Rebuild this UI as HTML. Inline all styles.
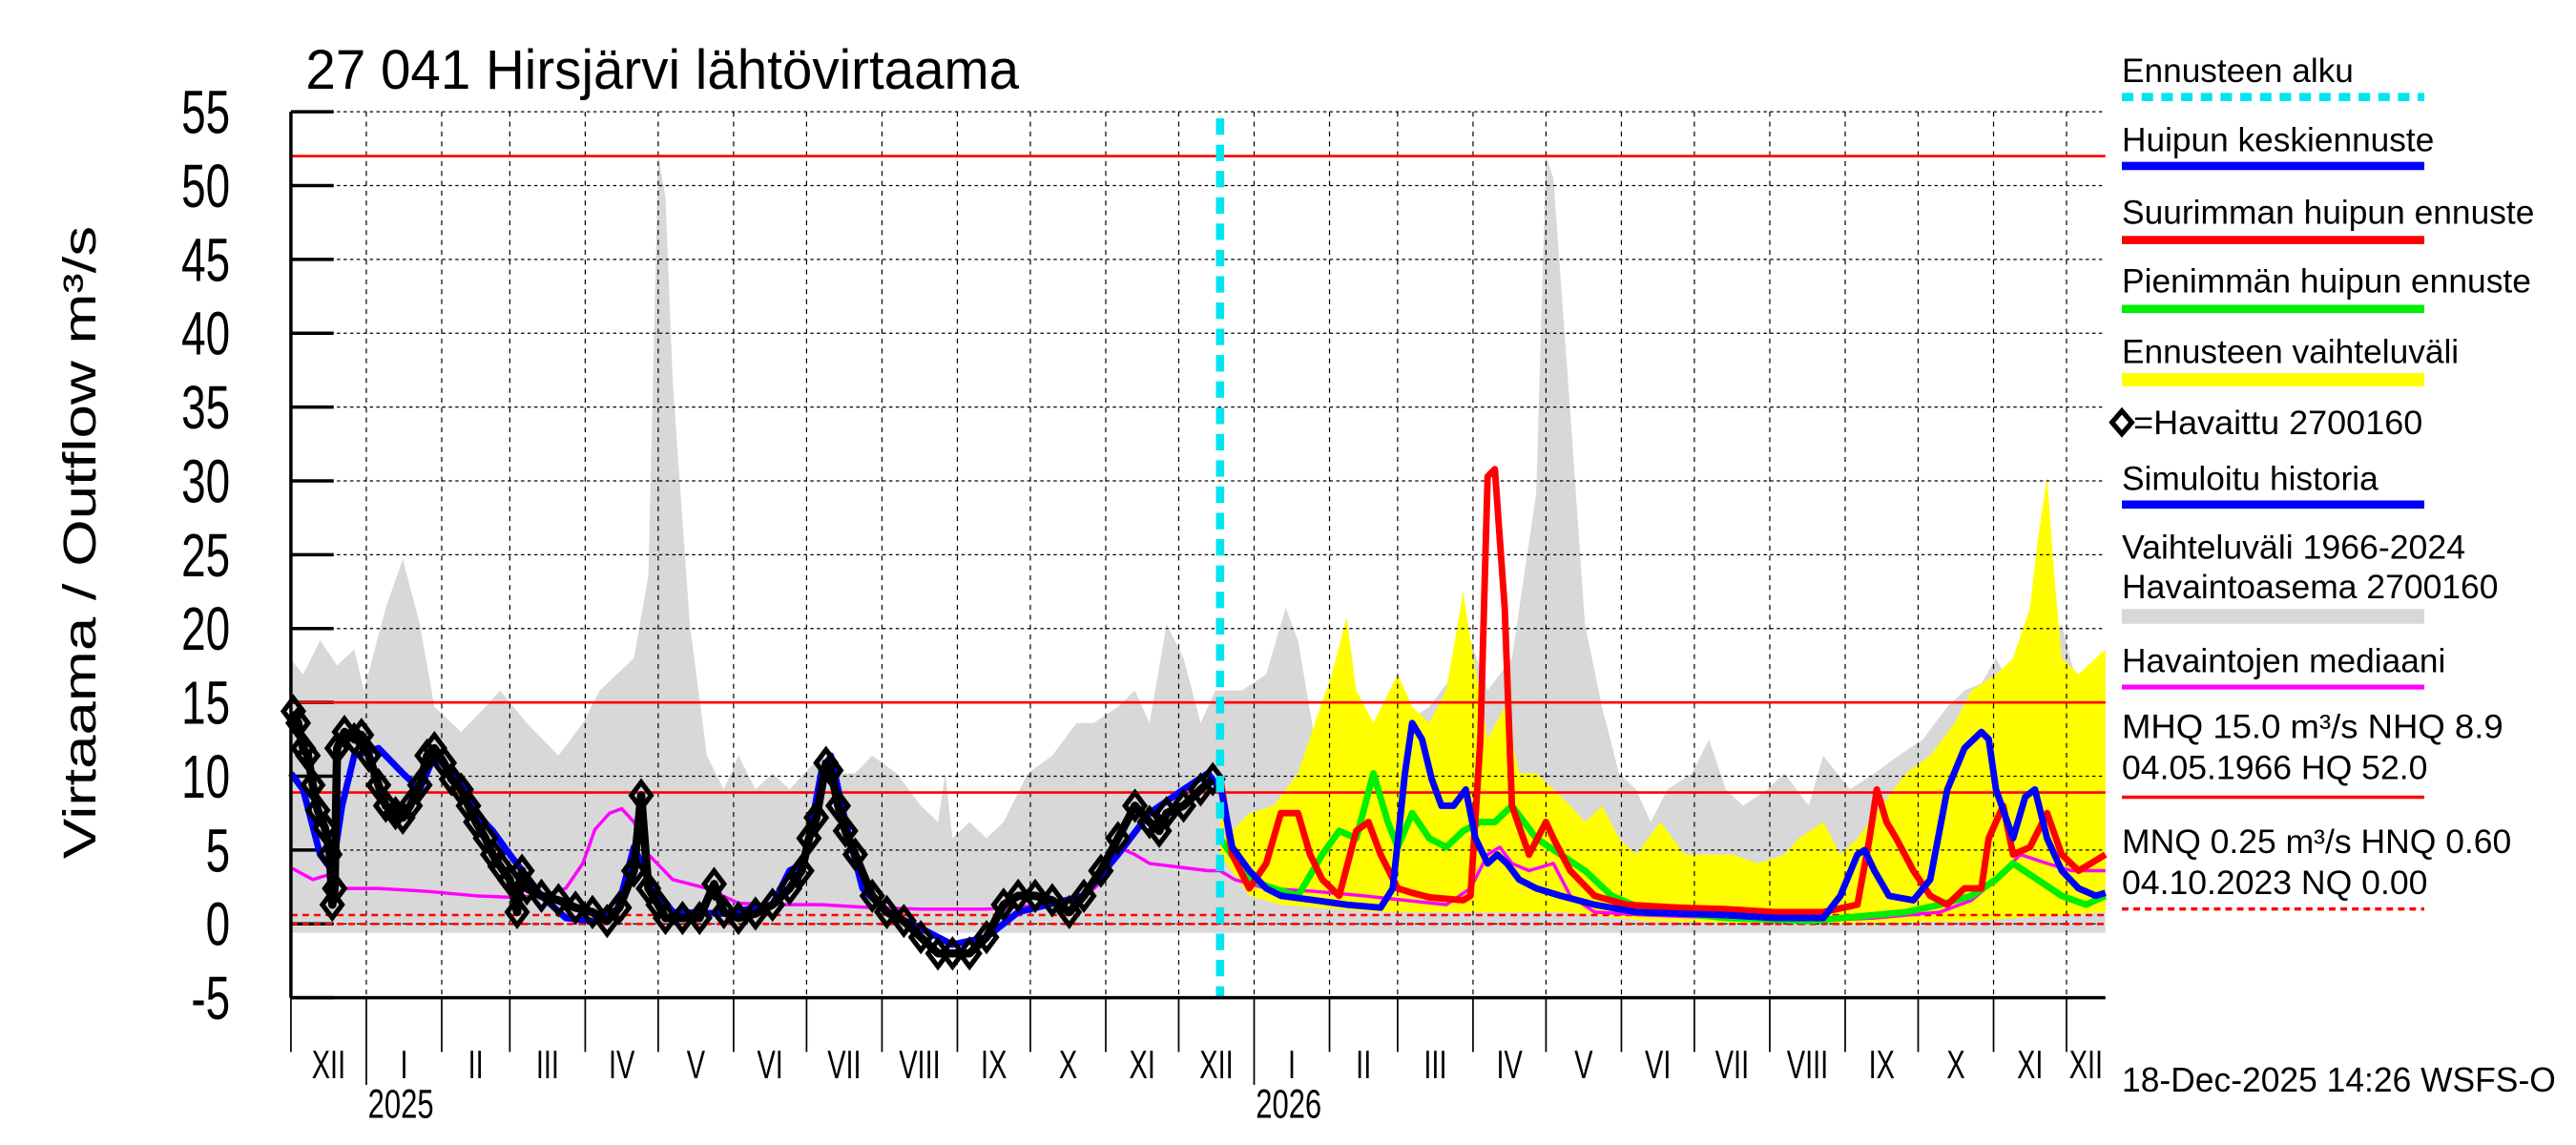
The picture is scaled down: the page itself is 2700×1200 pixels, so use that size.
<!DOCTYPE html>
<html><head><meta charset="utf-8"><style>
html,body{margin:0;padding:0;background:#fff;}
svg{display:block;font-family:"Liberation Sans",Arial,sans-serif;}
</style></head><body>
<svg id="chart" width="2700" height="1200" viewBox="0 0 1567.3 696.6" preserveAspectRatio="none" xmlns="http://www.w3.org/2000/svg">
<text x="186" y="54" font-size="34" textLength="434" lengthAdjust="spacingAndGlyphs">27 041 Hirsjärvi lähtövirtaama</text>
<text transform="translate(58,330) rotate(-90)" text-anchor="middle" font-size="28" textLength="385" lengthAdjust="spacingAndGlyphs">Virtaama / Outflow     m³/s</text>
<g id="plot"></g>
<g id="legend" font-size="20.5">
<text x="1291" y="50" textLength="141" lengthAdjust="spacingAndGlyphs">Ennusteen alku</text>
<line x1="1291" y1="59" x2="1475" y2="59" stroke="#00e5f0" stroke-width="5" stroke-dasharray="7,5"/>
<text x="1291" y="92" textLength="190" lengthAdjust="spacingAndGlyphs">Huipun keskiennuste</text>
<line x1="1291" y1="101" x2="1475" y2="101" stroke="#0000ff" stroke-width="5"/>
<text x="1291" y="136" textLength="251" lengthAdjust="spacingAndGlyphs">Suurimman huipun ennuste</text>
<line x1="1291" y1="146" x2="1475" y2="146" stroke="#ff0000" stroke-width="5"/>
<text x="1291" y="178" textLength="249" lengthAdjust="spacingAndGlyphs">Pienimmän huipun ennuste</text>
<line x1="1291" y1="188" x2="1475" y2="188" stroke="#00ee00" stroke-width="5"/>
<text x="1291" y="221" textLength="205" lengthAdjust="spacingAndGlyphs">Ennusteen vaihteluväli</text>
<line x1="1291" y1="231" x2="1475" y2="231" stroke="#ffff00" stroke-width="8"/>
<path d="M1285,257 l6,-7 l6,7 l-6,7z" fill="none" stroke="#000" stroke-width="3"/>
<text x="1298" y="264" textLength="176" lengthAdjust="spacingAndGlyphs">=Havaittu 2700160</text>
<text x="1291" y="298" textLength="156" lengthAdjust="spacingAndGlyphs">Simuloitu historia</text>
<line x1="1291" y1="307" x2="1475" y2="307" stroke="#0000ff" stroke-width="5"/>
<text x="1291" y="340" textLength="209" lengthAdjust="spacingAndGlyphs">Vaihteluväli 1966-2024</text>
<text x="1291" y="364" textLength="229" lengthAdjust="spacingAndGlyphs">Havaintoasema 2700160</text>
<line x1="1291" y1="375" x2="1475" y2="375" stroke="#d8d8d8" stroke-width="9"/>
<text x="1291" y="409" textLength="197" lengthAdjust="spacingAndGlyphs">Havaintojen mediaani</text>
<line x1="1291" y1="418" x2="1475" y2="418" stroke="#ff00ff" stroke-width="3"/>
<text x="1291" y="449" textLength="232" lengthAdjust="spacingAndGlyphs">MHQ 15.0 m³/s NHQ  8.9</text>
<text x="1291" y="474" textLength="186" lengthAdjust="spacingAndGlyphs">04.05.1966 HQ 52.0</text>
<line x1="1291" y1="485" x2="1475" y2="485" stroke="#ff0000" stroke-width="2"/>
<text x="1291" y="519" textLength="237" lengthAdjust="spacingAndGlyphs">MNQ 0.25 m³/s HNQ 0.60</text>
<text x="1291" y="544" textLength="186" lengthAdjust="spacingAndGlyphs">04.10.2023 NQ 0.00</text>
<line x1="1291" y1="553" x2="1475" y2="553" stroke="#ff0000" stroke-width="2" stroke-dasharray="4,3"/>
<text x="1291" y="664" font-size="21" textLength="264" lengthAdjust="spacingAndGlyphs">18-Dec-2025 14:26 WSFS-O</text>
</g>
</svg>
<script>
// Data (day index since 1 Dec 2024, value m3/s)
const yTicks=[-5,0,5,10,15,20,25,30,35,40,45,50,55];
const monthLabels=["XII","I","II","III","IV","V","VI","VII","VIII","IX","X","XI","XII","I","II","III","IV","V","VI","VII","VIII","IX","X","XI","XII"];
const monthStarts=[0,31,62,90,121,151,182,212,243,274,304,335,365,396,427,455,486,516,547,577,608,639,669,700,730,746];
const yearLabels=["2025","2026"];
const yearStarts=[31,396];
const refLevels=[52,15,8.9];
const lowLevels=[0.6,0.0];
const forecastStart=382;
const grayDays=[0,5,12,19,26,30,39,46,53,59,70,80,86,97,110,120,127,134,141,147,151,154,157,164,171,178,184,191,198,205,211,218,225,232,239,249,259,266,269,272,279,286,293,303,313,323,330,340,347,353,360,367,374,380,391,401,409,414,421,428,438,448,458,468,478,485,492,502,512,516,519,526,532,539,546,553,559,566,576,583,590,597,607,614,624,630,641,651,661,671,681,688,695,701,708,718,728,735,742,746];
const grayUpper=[17.9,16.9,19.2,17.5,18.6,15.8,21.4,24.7,20.3,14.7,13.0,14.7,15.8,13.6,11.4,13.6,15.8,16.9,18.0,23.6,52,49.2,36.7,20.3,11.4,9.1,11.4,9.1,10.2,9.1,10.2,11.4,10.2,10.2,11.4,10.2,8.0,6.9,10.2,5.8,6.9,5.8,6.9,10.2,11.4,13.6,13.6,14.7,15.8,13.6,20.3,18.0,13.6,15.8,15.8,16.9,21.4,19.2,12.5,14.7,14.7,13.0,13.6,14.7,16.9,19.2,15.8,18.0,29.2,52,50.5,34.7,20.3,14.7,10.2,9.1,6.9,9.1,10.2,12.5,9.1,8.0,9.1,10.2,8.0,11.4,9.1,10.2,11.4,12.5,14.7,15.8,16.3,18.0,15.8,18.0,20.3,15.8,18.0,18.0];
const grayLowDays=[0,746];
const grayLower=[-0.6,-0.6];
const yelDays=[382,384,394,404,414,421,428,434,438,445,455,461,468,475,482,485,492,499,505,512,519,526,532,539,546,553,563,573,583,593,603,614,620,630,637,644,654,664,674,684,691,701,708,715,718,722,725,728,735,742,746];
const yelUpper=[9.0,5.8,7.5,8.0,10.2,13.6,16.9,20.8,15.8,13.6,16.9,14.7,13.6,15.8,22.5,19.2,12.5,14.7,10.2,10.2,9.1,8.0,6.9,8.0,5.8,4.7,6.9,4.7,4.7,4.7,4.1,4.7,5.8,6.9,4.7,5.8,8.0,10.2,11.4,13.6,15.8,16.9,18.0,21.4,25.8,30.3,23.6,18.0,16.9,18.0,18.6];
const yelLowDays=[382,394,407,421,448,489,523,557,624,691,746];
const yelLower=[4.7,1.9,1.3,1.1,0.8,0.8,0.8,0.2,0.0,0.2,0.8];
const blueDays=[382,387,394,401,407,421,434,448,453,458,461,465,469,473,478,483,487,492,496,500,505,512,522,536,553,590,610,630,637,644,647,651,657,667,674,681,688,695,698,701,708,713,717,722,728,735,742,746];
const blueVals=[9.5,5.2,3.6,2.4,1.9,1.6,1.3,1.1,2.4,10.2,13.6,12.5,9.8,8.0,8.0,9.1,5.8,4.1,4.7,4.1,3.0,2.4,1.9,1.3,0.8,0.6,0.4,0.4,1.9,4.7,5.0,3.6,1.9,1.6,3.0,9.1,11.9,13.0,12.5,9.1,5.8,8.6,9.1,5.8,3.6,2.4,1.9,2.1];
const redDays=[382,387,394,401,407,414,419,424,431,438,443,448,455,461,468,482,485,489,492,495,499,502,509,516,519,526,536,549,570,590,610,630,644,649,652,656,660,667,674,681,688,695,698,704,708,715,722,728,735,740,746];
const redVals=[10.0,4.7,2.4,4.1,7.5,7.5,4.7,3.0,1.9,6.3,6.9,4.7,2.4,2.1,1.8,1.6,1.9,12.5,30.3,30.8,21.4,8.0,4.7,6.9,5.8,3.6,1.9,1.3,1.1,1.0,0.8,0.8,1.3,5.8,9.1,6.9,5.8,3.6,1.9,1.3,2.4,2.4,5.8,8.0,4.7,5.2,7.5,4.7,3.6,4.1,4.7];
const greenDays=[382,394,404,414,424,431,438,445,451,455,461,468,475,482,489,495,502,512,522,532,543,556,590,624,651,664,678,691,701,708,718,728,738,746];
const greenVals=[5.8,3.0,2.4,1.9,4.7,6.3,5.8,10.2,6.9,5.2,7.5,5.8,5.2,6.3,6.9,6.9,8.0,5.8,4.7,3.6,1.9,1.0,0.4,0.2,0.6,0.8,1.3,1.9,3.0,4.1,3.0,1.9,1.3,1.9];
const medDays=[0,9,15,22,36,56,76,90,103,113,120,125,131,136,141,147,157,171,184,198,218,239,259,286,313,327,334,340,347,353,367,377,382,388,401,421,441,458,475,485,492,497,502,509,519,526,536,557,590,624,651,678,691,701,711,722,732,746];
const medVals=[3.8,3.0,3.3,2.4,2.4,2.2,1.9,1.8,1.9,2.4,4.1,6.4,7.5,7.8,6.9,4.7,3.0,2.4,1.4,1.3,1.3,1.1,1.0,1.0,1.3,1.9,3.0,5.2,4.7,4.1,3.8,3.6,3.6,3.0,2.4,2.2,1.9,1.6,1.3,2.4,4.7,5.2,4.1,3.6,4.1,1.9,0.8,0.6,0.4,0.2,0.4,0.8,1.6,3.0,4.7,4.1,3.6,3.6];
const simDays=[0,5,12,17,21,26,36,46,53,59,70,76,83,90,103,113,124,134,141,147,157,178,198,205,211,218,222,228,235,245,259,272,286,299,326,340,353,367,377,382];
const simVals=[10.2,9.1,4.7,3.6,8.0,11.4,11.9,10.2,9.1,11.4,9.6,7.5,6.3,4.7,1.9,0.4,0.2,0.8,5.2,3.0,0.8,0.7,1.3,3.6,4.1,10.2,11.4,6.9,2.4,0.8,-0.3,-1.4,-0.9,0.8,1.9,4.7,7.5,9.1,10.2,9.1];
const obsDays=[1,3,5,7,9,11,14,16,17,18,19,22,26,29,32,36,39,43,46,49,53,56,59,63,66,70,73,76,80,83,86,90,93,95,97,103,110,117,124,130,135,141,144,147,151,154,161,168,174,178,184,191,198,205,210,213,216,220,222,225,228,232,239,245,252,259,266,272,279,286,293,299,306,313,320,326,333,340,347,353,357,360,367,374,379];
const obsVals=[14.4,13.6,11.9,11.4,9.4,7.7,6.5,4.7,1.3,2.4,11.9,13.0,12.5,12.8,11.4,9.4,8.0,7.5,7.2,8.0,9.4,11.4,11.9,10.9,9.8,9.1,8.0,6.9,5.8,4.7,3.9,3.0,0.8,3.6,2.4,1.9,1.6,1.1,0.8,0.2,1.1,3.6,8.7,2.4,1.3,0.4,0.4,0.4,2.7,0.8,0.4,0.7,1.3,2.4,3.6,5.8,7.2,10.9,10.4,8.0,6.3,4.7,1.9,0.8,0.2,-0.9,-2.0,-2.0,-2.0,-0.9,1.3,1.9,1.9,1.6,0.8,1.9,3.6,5.8,8.0,6.9,6.3,7.5,8.0,9.1,9.8];

const NS="http://www.w3.org/2000/svg";
const L=177,R=1281,T=68,B=607,DMAX=746,VMIN=-5,VMAX=55;
function xs(d){return L+(d/DMAX)*(R-L);}
function ys(v){return B-(v-VMIN)/(VMAX-VMIN)*(B-T);}
const plot=document.getElementById('plot');
function mk(tag,attrs,parent){const e=document.createElementNS(NS,tag);for(const k in attrs)e.setAttribute(k,attrs[k]);(parent||plot).appendChild(e);return e;}
function pts(ds,vs){return ds.map((d,i)=>xs(d).toFixed(1)+','+ys(vs[i]).toFixed(1)).join(' ');}
function band(d1,u,d2,lo){return pts(d1,u)+' '+pts(d2.slice().reverse(),lo.slice().reverse());}

let e;
e=mk('polygon',{points:band(grayDays,grayUpper,grayLowDays,grayLower),fill:'#d8d8d8'});


e=mk('polygon',{points:band(yelDays,yelUpper,yelLowDays,yelLower),fill:'#ffff00'});



// grid
yTicks.forEach(v=>{
  const y=ys(v);
  if(v>VMIN){e=mk('line',{x1:L,x2:R,y1:y,y2:y,stroke:'#000','stroke-width':0.7,'stroke-dasharray':'2,2'});
  
  }
  e=mk('line',{x1:L,x2:L+26,y1:y,y2:y,stroke:'#000','stroke-width':2});
  
  
  e=mk('text',{x:0,y:0,'text-anchor':'end','font-size':37,transform:`translate(140,${y+13}) scale(0.72,1)`});
  e.textContent=v;
  
  
});
monthStarts.forEach((d,i)=>{
  const x=xs(d);
  if(i>0&&i<monthStarts.length-1){
    e=mk('line',{x1:x,x2:x,y1:T,y2:B,stroke:'#000','stroke-width':0.7,'stroke-dasharray':'3,3'});
    
    
  }
  if(i<monthStarts.length-1){
    const isYear=yearStarts.indexOf(d)>=0;
    e=mk('line',{x1:x,x2:x,y1:B,y2:isYear?660:640,stroke:'#000','stroke-width':1});
    
    
    e=mk('text',{x:0,y:0,'text-anchor':'middle','font-size':24,transform:`translate(${(x+xs(monthStarts[i+1]))/2},656) scale(0.7,1)`});
    e.textContent=monthLabels[i];
    
    
  }
});
yearStarts.forEach((d,i)=>{
  e=mk('text',{x:0,y:0,'font-size':25,transform:`translate(${xs(d)+1},680) scale(0.72,1)`});
  e.textContent=yearLabels[i];
  
  
});

// reference lines
refLevels.forEach(v=>{
  e=mk('line',{x1:L,x2:R,y1:ys(v),y2:ys(v),stroke:'#ff0000','stroke-width':1.5});
  
  
});
lowLevels.forEach(v=>{
  e=mk('line',{x1:L,x2:R,y1:ys(v),y2:ys(v),stroke:'#ff0000','stroke-width':1.5,'stroke-dasharray':'4,3'});
  
  
});

function line(ds,vs,color,w,name){
  e=mk('polyline',{points:pts(ds,vs),fill:'none',stroke:color,'stroke-width':w,'stroke-linejoin':'round'});
  
  
}
line(medDays,medVals,'#ff00ff',2,'median-line');
line(simDays,simVals,'#0000ff',4,'simulated-history-line');
line(greenDays,greenVals,'#00ee00',4,'min-peak-forecast-line');
line(redDays,redVals,'#ff0000',4,'max-peak-forecast-line');
line(blueDays,blueVals,'#0000ff',4,'mean-peak-forecast-line');
line(obsDays,obsVals,'#000',5,'observed-line');
obsDays.forEach((d,i)=>{
  const x=xs(d),y=ys(obsVals[i]);
  e=mk('path',{d:`M${x-6},${y} L${x},${y-8} L${x+6},${y} L${x},${y+8}Z`,fill:'none',stroke:'#000','stroke-width':3});
  
  
});

e=mk('line',{x1:xs(forecastStart),x2:xs(forecastStart),y1:T+4,y2:B,stroke:'#00e5f0','stroke-width':5,'stroke-dasharray':'10,6'});



e=mk('line',{x1:L,x2:L,y1:T,y2:B,stroke:'#000','stroke-width':2});


e=mk('line',{x1:L,x2:R,y1:B,y2:B,stroke:'#000','stroke-width':2});


</script>
</body></html>
